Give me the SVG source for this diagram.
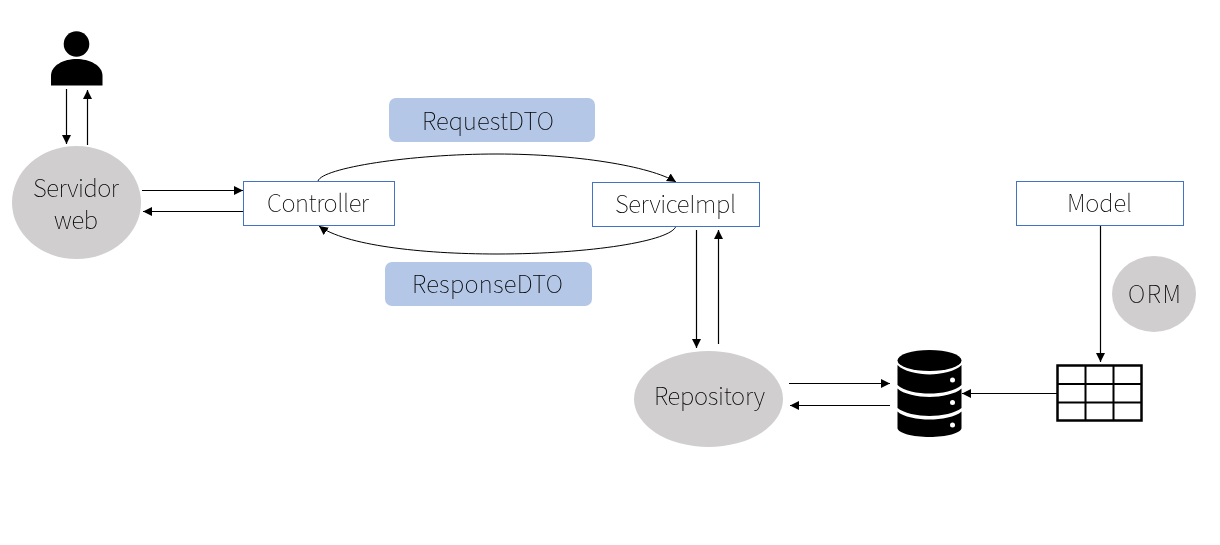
<svg xmlns="http://www.w3.org/2000/svg" width="1220" height="545" viewBox="0 0 1220 545">
<style>
.t{font-family:"Noto Sans CJK KR",sans-serif;font-weight:100;font-size:24px;fill:#000;text-anchor:middle;mix-blend-mode:multiply}
.box{fill:#fff;stroke:#4472c4;stroke-width:1}
.oval{fill:#d0cece}
.dto{fill:#b4c7e7}
.c{fill:none;stroke:#000;stroke-width:1.2}
.k{stroke-width:1}
.a{marker-end:url(#arr)}
</style>
<defs>
<marker id="arr" markerUnits="userSpaceOnUse" markerWidth="10" markerHeight="10" refX="9" refY="4.500" orient="auto"><path d="M0 0L9 4.500L0 9Z" fill="#000"/></marker>
</defs>
<rect width="1220" height="545" fill="#fff"/>
<g id="connectors">
<path class="c a" d="M66.500 89V144"/>
<path class="c a" d="M87.500 145V90"/>
<path class="c a" d="M142 190.500H243"/>
<path class="c a" d="M243 211.500H143"/>
<path class="c k a" d="M318 181C322 168 410 154 497 154C575 154 650 166 676 182"/>
<path class="c k a" d="M676 226C672 241 590 254 497 254C420 254 345 245 319 226"/>
<path class="c a" d="M696.500 230V348"/>
<path class="c a" d="M718.500 344V230"/>
<path class="c a" d="M789 383.500H890"/>
<path class="c a" d="M890 405.500H790"/>
<path class="c a" d="M1057 393.500H962"/>
<path class="c a" d="M1100.500 225V362"/>
</g>
<g id="user"><circle cx="76.500" cy="44" r="12.800"/><path d="M51 85.500V76C51 65 64 59 76.500 59C89 59 102.500 65 102.500 76V85.500Z"/></g>
<g id="servidor"><ellipse class="oval" cx="76.500" cy="202.500" rx="64.500" ry="56.500"/><text class="t" x="76" y="197" textLength="86">Servidor</text><text class="t" x="76" y="229" textLength="44">web</text></g>
<g id="controller"><rect class="box" x="243.500" y="181.500" width="151" height="44"/><text class="t" x="318" y="212" textLength="102">Controller</text></g>
<g id="serviceimpl"><rect class="box" x="592.500" y="182.500" width="167" height="44"/><text class="t" x="675.500" y="213" textLength="121">ServiceImpl</text></g>
<g id="model"><rect class="box" x="1016.500" y="181.500" width="167" height="44"/><text class="t" x="1099.500" y="212" textLength="65">Model</text></g>
<g id="requestdto"><rect class="dto" x="389" y="98" width="206" height="44" rx="7"/><text class="t" x="488" y="130" textLength="132">RequestDTO</text></g>
<g id="responsedto"><rect class="dto" x="385" y="262" width="207" height="44" rx="7"/><text class="t" x="487.500" y="293" textLength="151">ResponseDTO</text></g>
<g id="orm"><ellipse class="oval" cx="1154" cy="294" rx="42" ry="38"/><text class="t" x="1154.500" y="303" textLength="53">ORM</text></g>
<g id="repository"><ellipse class="oval" cx="708.500" cy="399" rx="74.500" ry="48"/><text class="t" x="709.500" y="405" textLength="111">Repository</text></g>
<g id="database">
<ellipse cx="929.500" cy="360.500" rx="32" ry="10.500"/>
<path d="M897.500 365C903 371 918 374.500 929.500 374.500C941 374.500 956 371 961.500 365V385C956 391 941 393.500 929.500 393.500C918 393.500 903 391 897.500 385Z"/>
<path d="M897.500 388.500C903 394 918 397 929.500 397C941 397 956 394 961.500 388.500V408C956 413 941 416 929.500 416C918 416 903 413 897.500 408Z"/>
<path d="M897.500 411.500C903 417 918 419.500 929.500 419.500C941 419.500 956 417 961.500 411.500V428C961.500 433 946 437 929.500 437C913 437 897.500 433 897.500 428Z"/>
<circle cx="952.500" cy="380" r="2.500" fill="#fff"/><circle cx="952.500" cy="402.500" r="2.500" fill="#fff"/><circle cx="952.500" cy="425" r="2.500" fill="#fff"/>
</g>
<g id="table" fill="none" stroke="#000" stroke-width="2">
<rect x="1057.500" y="365.500" width="84" height="55" stroke-width="2.500"/>
<path d="M1057.500 384H1141.500M1057.500 402.500H1141.500M1085.500 365.500V420.500M1113.500 365.500V420.500"/>
</g>
</svg>
